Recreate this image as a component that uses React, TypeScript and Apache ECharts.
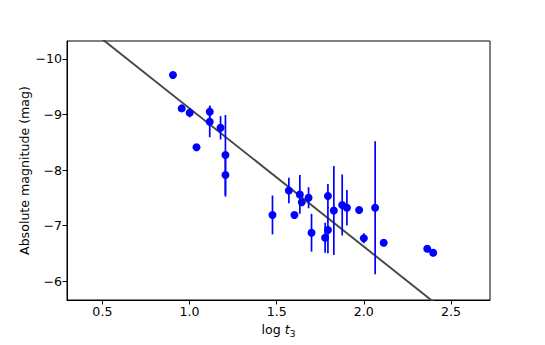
import React, { useEffect, useRef } from "react";
import * as echarts from "echarts";

const logT3 = [0.905, 0.955, 1.001, 1.116, 1.116, 1.178, 1.040, 1.206, 1.206, 1.476, 1.570, 1.602, 1.633, 1.644, 1.683, 1.700, 1.794, 1.794, 1.778, 1.828, 1.876, 1.903, 1.973, 2.065, 2.000, 2.114, 2.364, 2.398];
const absMag = [-9.71, -9.11, -9.03, -9.05, -8.87, -8.76, -8.41, -8.27, -7.91, -7.19, -7.63, -7.19, -7.56, -7.42, -7.50, -6.87, -7.53, -6.92, -6.78, -7.27, -7.37, -7.32, -7.28, -7.32, -6.77, -6.69, -6.58, -6.51];
const magErr = [0, 0, 0.08, 0.11, 0.28, 0.21, 0, 0.72, 0.39, 0.35, 0.23, 0, 0.35, 0, 0.19, 0.34, 0.22, 0.42, 0.27, 0.80, 0.55, 0.32, 0, 1.2, 0.09, 0, 0, 0];

const fitX = [0.3, 2.72];
const fitY = [-10.853, -4.827];

const xTicks = [0.5, 1.0, 1.5, 2.0, 2.5];
const yTicks = [-10, -9, -8, -7, -6];

const FONT = "DejaVu Sans";
const FS = 12.6;

export default function App() {
  const ref = useRef<HTMLDivElement>(null);
  useEffect(() => {
    if (!ref.current) return;
    const chart = echarts.init(ref.current, null, { renderer: "svg" });
    const pts = logT3.map((x, i) => [x, absMag[i], magErr[i]]);
    chart.setOption({
      animation: false,
      backgroundColor: "#ffffff",
      grid: {
        left: 67,
        right: 55,
        top: 41,
        bottom: 45,
        show: true,
        borderColor: "#000",
        borderWidth: 1,
        backgroundColor: "transparent",
      },
      xAxis: {
        type: "value",
        min: 0.297,
        max: 2.724,
        name: "{a|log }{b|t}{c|3}",
        nameLocation: "middle",
        nameGap: 21,
        nameMoveOverlap: false,
        nameTextStyle: {
          rich: {
            a: { fontFamily: FONT, fontSize: FS, color: "#000" },
            b: { fontFamily: FONT, fontSize: FS, fontStyle: "italic", color: "#000" },
            c: { fontFamily: FONT, fontSize: 9, color: "#000", padding: [8, 0, 0, 0] },
          },
        },
        splitLine: { show: false },
        axisLine: { show: true, onZero: false, lineStyle: { color: "#000", width: 1 } },
        axisTick: { show: true, length: 4.5, lineStyle: { color: "#000", width: 1 }, customValues: xTicks },
        axisLabel: {
          customValues: xTicks,
          fontFamily: FONT,
          fontSize: FS,
          color: "#000",
          margin: 5,
          formatter: (v: number) => v.toFixed(1),
        },
      },
      yAxis: {
        type: "value",
        inverse: true,
        min: -10.324,
        max: -5.658,
        name: "Absolute magnitude (mag)",
        nameLocation: "middle",
        nameGap: 36,
        nameMoveOverlap: false,
        nameTextStyle: { fontFamily: FONT, fontSize: FS, color: "#000" },
        splitLine: { show: false },
        axisLine: { show: true, onZero: false, lineStyle: { color: "#000", width: 1 } },
        axisTick: { show: true, length: 4.5, lineStyle: { color: "#000", width: 1 }, customValues: yTicks },
        axisLabel: {
          customValues: yTicks,
          fontFamily: FONT,
          fontSize: FS,
          color: "#000",
          margin: 5,
          formatter: (v: number) => (v < 0 ? "\u2212" + Math.abs(v) : String(v)),
        },
      },
      series: [
        {
          type: "line",
          data: fitX.map((x, i) => [x, fitY[i]]),
          symbol: "none",
          clip: true,
          lineStyle: { color: "#454545", width: 1.9 },
          z: 1,
        },
        {
          type: "custom",
          data: pts,
          clip: true,
          z: 2,
          renderItem: (params: any, api: any) => {
            const x = api.value(0);
            const y = api.value(1);
            const e = api.value(2);
            if (!e) return null;
            const p1 = api.coord([x, y - e]);
            const p2 = api.coord([x, y + e]);
            return {
              type: "line",
              shape: { x1: p1[0], y1: p1[1], x2: p2[0], y2: p2[1] },
              style: { stroke: "#0000ff", lineWidth: 1.7 },
            };
          },
        },
        {
          type: "scatter",
          data: pts.map((p) => [p[0], p[1]]),
          symbol: "circle",
          symbolSize: 8,
          itemStyle: { color: "#0000ff", opacity: 1 },
          z: 3,
        },
      ],
    });
    return () => chart.dispose();
  }, []);
  return (
    <div
      ref={ref}
      style={{ position: "fixed", left: 0, top: 0, width: 545, height: 345 }}
    />
  );
}
